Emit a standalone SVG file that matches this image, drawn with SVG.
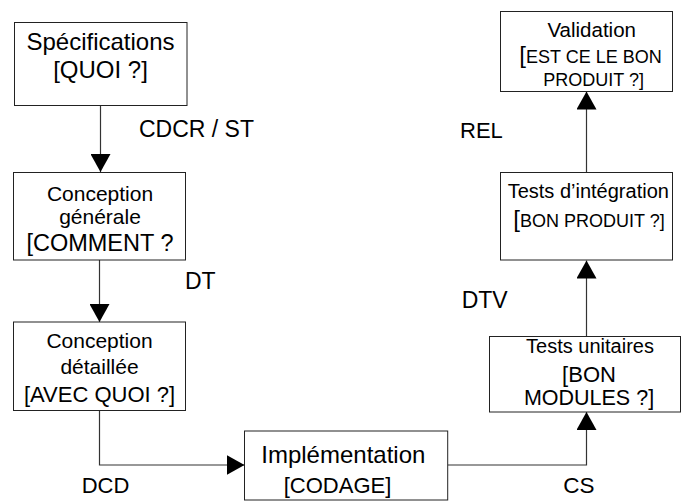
<svg xmlns="http://www.w3.org/2000/svg" width="681" height="501" viewBox="0 0 681 501">
<style>
.box{fill:#fff;stroke:#222;stroke-width:1}
.t{font-family:"Liberation Sans",Arial,sans-serif;fill:#000}
.c{text-anchor:middle}
.conn{fill:none;stroke:#333;stroke-width:1.2}
.lbl{font-family:"Liberation Sans",Arial,sans-serif;fill:#000;font-size:23px}
</style>
<defs>
<marker id="arr" viewBox="0 -10 18 20" refX="18" refY="0" markerWidth="18" markerHeight="20" markerUnits="userSpaceOnUse" orient="auto">
<path d="M0,-10 L18,0 L0,10 z" fill="#000"/>
</marker>
</defs>
<rect width="681" height="501" fill="#fff"/>
<g id="connectors">
<path class="conn" d="M100.5,105.5 V172" marker-end="url(#arr)"/>
<path class="conn" d="M99.5,260 V322" marker-end="url(#arr)"/>
<path class="conn" d="M99.5,410.5 V465 H244.5" marker-end="url(#arr)"/>
<path class="conn" d="M447.7,465 H586.5 V412" marker-end="url(#arr)"/>
<path class="conn" d="M586.5,336.5 V260.5" marker-end="url(#arr)"/>
<path class="conn" d="M586.5,172.5 V91.5" marker-end="url(#arr)"/>
<text class="lbl" x="139" y="136.7">CDCR / ST</text>
<text class="lbl" x="185" y="289.3">DT</text>
<text class="lbl" x="81.7" y="493.3" style="font-size:22px">DCD</text>
<text class="lbl" x="563.3" y="493.3" style="font-size:22.5px">CS</text>
<text class="lbl" x="461.7" y="307.7">DTV</text>
<text class="lbl" x="460" y="138.3" style="font-size:22px">REL</text>
</g>
<g id="specifications">
<rect class="box" x="14.5" y="22.5" width="172.5" height="83"/>
<text class="t c" x="100.5" y="50" font-size="24">Spécifications</text>
<text class="t c" x="100.5" y="78" font-size="24">[QUOI ?]</text>
</g>
<g id="conception-generale">
<rect class="box" x="13.5" y="172.5" width="172" height="87.5"/>
<text class="t c" x="100" y="200.7" font-size="21">Conception</text>
<text class="t c" x="100" y="224" font-size="21">générale</text>
<text class="t c" x="100" y="250.7" font-size="23.5">[COMMENT ?</text>
</g>
<g id="conception-detaillee">
<rect class="box" x="13.5" y="322" width="172" height="88.5"/>
<text class="t c" x="99.5" y="348.3" font-size="21">Conception</text>
<text class="t c" x="99.5" y="374" font-size="21">détaillée</text>
<text class="t c" x="99.5" y="401.7" font-size="22">[AVEC QUOI ?]</text>
</g>
<g id="implementation">
<rect class="box" x="244.5" y="431" width="203.2" height="69"/>
<text class="t c" x="343.3" y="463.3" font-size="24">Implémentation</text>
<text class="t c" x="337.5" y="493.3" font-size="22">[CODAGE]</text>
</g>
<g id="tests-unitaires">
<rect class="box" x="489.5" y="336.5" width="191" height="75.5"/>
<text class="t c" x="590" y="353.3" font-size="20">Tests unitaires</text>
<text class="t c" x="589" y="381.7" font-size="22">[BON</text>
<text class="t c" x="589" y="405" font-size="21.5">MODULES ?]</text>
</g>
<g id="tests-integration">
<rect class="box" x="500.5" y="172.5" width="172" height="87.5"/>
<text class="t" x="507.7" y="198.3" font-size="20">Tests d’intégration</text>
<text class="t" x="513.3" y="226.7" font-size="18"><tspan font-size="24">[</tspan>BON PRODUIT ?]</text>
</g>
<g id="validation">
<rect class="box" x="500.5" y="11.5" width="172" height="80"/>
<text class="t c" x="591.7" y="36.7" font-size="20.5">Validation</text>
<text class="t" x="519.3" y="63.3" font-size="18"><tspan font-size="24">[</tspan>EST CE LE BON</text>
<text class="t" x="543.3" y="86" font-size="18">PRODUIT ?]</text>
</g>
</svg>
